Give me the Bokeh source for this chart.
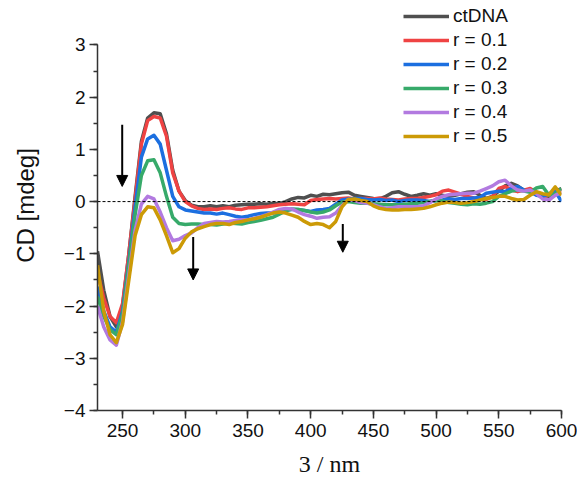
from bokeh.plotting import figure
from bokeh.models import (Range1d, SingleIntervalTicker, Span, Arrow, NormalHead,
                          Legend, LegendItem, ColumnDataSource)
from bokeh.embed import file_html
from bokeh.resources import INLINE

wavelength = [230, 235, 240, 245, 250, 255, 260, 265, 270, 275, 280, 285, 290, 295, 300,
              305, 310, 315, 320, 325, 330, 335, 340, 345, 350, 355, 360, 365, 370, 375,
              380, 385, 390, 395, 400, 405, 410, 415, 420, 425, 430, 435, 440, 445, 450,
              455, 460, 465, 470, 475, 480, 485, 490, 495, 500, 505, 510, 515, 520, 525,
              530, 535, 540, 545, 550, 555, 560, 565, 570, 575, 580, 585, 590, 595, 600]

ctDNA = [-0.95, -1.7, -2.2, -2.4, -2.0, -1.0, 0.1, 1.15, 1.6, 1.7, 1.68, 1.3, 0.6, 0.2, 0.02,
         -0.07, -0.1, -0.1, -0.08, -0.1, -0.08, -0.1, -0.07, -0.06, -0.05, -0.05, -0.04, -0.05, -0.03, -0.04,
         0.0, 0.05, 0.08, 0.07, 0.12, 0.1, 0.14, 0.13, 0.15, 0.17, 0.18, 0.12, 0.1, 0.08, 0.06,
         0.05, 0.1, 0.17, 0.19, 0.14, 0.1, 0.12, 0.15, 0.12, 0.15, 0.12, 0.1, 0.12, 0.15, 0.18,
         0.19, 0.12, 0.06, 0.1, 0.2, 0.3, 0.35, 0.3, 0.22, 0.19, 0.15, 0.12, 0.1, 0.2, 0.25]

r01 = [-1.35, -1.85, -2.2, -2.32, -1.95, -1.0, 0.05, 1.1, 1.55, 1.63, 1.6, 1.25, 0.55, 0.2, 0.0,
       -0.08, -0.13, -0.15, -0.14, -0.15, -0.13, -0.12, -0.14, -0.15, -0.12, -0.12, -0.11, -0.1, -0.08, -0.06,
       -0.05, -0.04, -0.05, -0.06, 0.02, 0.04, 0.05, 0.06, 0.05, 0.06, 0.07, 0.05, 0.06, 0.06, 0.05,
       0.07, 0.05, 0.04, 0.03, 0.05, 0.06, 0.06, 0.08, 0.1, 0.13, 0.2, 0.22, 0.18, 0.14, 0.1,
       0.07, 0.05, 0.04, 0.1, 0.25, 0.29, 0.22, 0.19, 0.22, 0.25, 0.18, 0.1, 0.12, 0.2, 0.22]

r02 = [-1.63, -2.1, -2.4, -2.5, -2.1, -1.15, -0.1, 0.85, 1.2, 1.27, 1.1, 0.6, 0.1, -0.1, -0.16,
       -0.18, -0.2, -0.22, -0.22, -0.24, -0.22, -0.25, -0.28, -0.3, -0.28, -0.25, -0.23, -0.22, -0.22, -0.2,
       -0.16, -0.15, -0.15, -0.17, -0.19, -0.16, -0.15, -0.13, -0.05, 0.03, 0.05, 0.06, 0.06, 0.04, 0.03,
       0.04, 0.02, 0.03, 0.0, 0.02, 0.03, 0.03, 0.02, 0.0, 0.02, 0.03, 0.05, 0.04, 0.06, 0.06,
       0.07, 0.08, 0.16, 0.18, 0.2, 0.19, 0.25, 0.29, 0.22, 0.19, 0.12, 0.1, 0.15, 0.2, 0.0]

r03 = [-1.82, -2.2, -2.45, -2.55, -2.15, -1.2, -0.25, 0.5, 0.78, 0.8, 0.55, 0.1, -0.3, -0.42, -0.44,
       -0.43, -0.43, -0.44, -0.44, -0.45, -0.43, -0.41, -0.42, -0.43, -0.4, -0.38, -0.36, -0.33, -0.3, -0.24,
       -0.18, -0.14, -0.15, -0.17, -0.2, -0.22, -0.2, -0.16, -0.08, -0.01, 0.0, -0.02, -0.03, -0.03, -0.04,
       -0.05, -0.06, -0.06, -0.06, -0.05, -0.04, -0.03, -0.02, 0.0, 0.02, 0.01, -0.02, -0.03, -0.05, -0.06,
       -0.04, -0.05, -0.03, 0.0, 0.1, 0.15, 0.2, 0.22, 0.2, 0.18, 0.26, 0.29, 0.12, 0.15, 0.25]

r04 = [-2.0, -2.4, -2.65, -2.75, -2.3, -1.4, -0.55, -0.05, 0.1, 0.05, -0.2, -0.5, -0.75, -0.72, -0.65,
       -0.6, -0.5, -0.42, -0.4, -0.38, -0.39, -0.38, -0.36, -0.35, -0.35, -0.32, -0.29, -0.25, -0.2, -0.15,
       -0.13, -0.14, -0.2, -0.25, -0.28, -0.32, -0.3, -0.29, -0.22, -0.08, 0.04, 0.02, -0.02, -0.03, -0.06,
       -0.1, -0.13, -0.12, -0.1, -0.1, -0.1, -0.1, -0.08, -0.02, 0.05, 0.1, 0.13, 0.14, 0.15, 0.16,
       0.16, 0.2, 0.25, 0.3, 0.38, 0.41, 0.3, 0.22, 0.2, 0.22, 0.15, 0.05, 0.03, 0.12, 0.18]

r05 = [-1.22, -2.1, -2.55, -2.7, -2.35, -1.5, -0.65, -0.25, -0.1, -0.12, -0.35, -0.65, -0.98, -0.9, -0.7,
       -0.58, -0.52, -0.48, -0.44, -0.42, -0.42, -0.44, -0.4, -0.38, -0.35, -0.33, -0.3, -0.26, -0.22, -0.2,
       -0.22, -0.26, -0.3, -0.38, -0.44, -0.42, -0.44, -0.5, -0.38, -0.1, 0.04, 0.05, 0.02, 0.0, -0.08,
       -0.13, -0.15, -0.16, -0.16, -0.15, -0.15, -0.14, -0.13, -0.1, -0.06, -0.03, -0.01, -0.02, -0.03, -0.02,
       0.0, 0.03, 0.06, 0.08, 0.1, 0.1, 0.06, 0.03, 0.04, 0.12, 0.19, 0.15, 0.13, 0.28, 0.12]

series_labels = ["ctDNA", "r = 0.1", "r = 0.2", "r = 0.3", "r = 0.4", "r = 0.5"]
series_values = [ctDNA, r01, r02, r03, r04, r05]
series_colors = ["#4f4f4f", "#ef4343", "#1c6fe0", "#37aa6a", "#b27ae0", "#cc9a06"]

# arrows (x, y_start, y_end)
arrow_x = [249.7, 306.3, 425.6]
arrow_y0 = [1.47, -0.68, -0.43]
arrow_y1 = [0.29, -1.5, -0.97]

x_ticks_interval = 50
y_ticks_interval = 1

p = figure(width=577, height=479, output_backend="svg", toolbar_location=None,
           x_range=Range1d(230, 600), y_range=Range1d(-4, 3.85),
           min_border_left=97, min_border_right=16, min_border_top=0, min_border_bottom=65)
p.outline_line_color = None
p.xgrid.visible = False
p.ygrid.visible = False
p.background_fill_color = "white"
p.border_fill_color = "white"

p.xaxis.ticker = SingleIntervalTicker(interval=x_ticks_interval, num_minor_ticks=2)
p.yaxis.ticker = SingleIntervalTicker(interval=y_ticks_interval, num_minor_ticks=2)
p.yaxis.bounds = (-4, 3)
p.xaxis.bounds = (230, 600)

for ax in (p.xaxis[0], p.yaxis[0]):
    ax.axis_line_color = "#333333"
    ax.axis_line_width = 1.5
    ax.major_tick_line_color = "#333333"
    ax.minor_tick_line_color = "#333333"
    ax.major_tick_line_width = 1.5
    ax.minor_tick_line_width = 1.5
    ax.major_tick_out = 8
    ax.major_tick_in = 0
    ax.minor_tick_out = 4
    ax.minor_tick_in = 0
    ax.major_label_text_font = "Liberation Sans"
    ax.major_label_text_font_size = "19px"
    ax.major_label_text_color = "#111111"

p.xaxis.axis_label = "3 / nm"
p.xaxis.axis_label_text_font = "Liberation Serif"
p.xaxis.axis_label_text_font_style = "normal"
p.xaxis.axis_label_text_font_size = "24px"
p.xaxis.axis_label_text_color = "#111111"
p.xaxis.axis_label_standoff = 11
p.xaxis.major_label_standoff = 5

p.yaxis.axis_label = "CD [mdeg]"
p.yaxis.axis_label_text_font = "Liberation Sans"
p.yaxis.axis_label_text_font_style = "normal"
p.yaxis.axis_label_text_font_size = "24px"
p.yaxis.axis_label_text_color = "#111111"
p.yaxis.axis_label_standoff = 22
p.yaxis.major_label_standoff = 4

p.add_layout(Span(location=0, dimension="width", line_color="black",
                  line_dash="3 2", line_width=1))

items = []
for lab, vals, col in zip(series_labels, series_values, series_colors):
    src = ColumnDataSource(dict(x=wavelength, y=vals))
    r = p.line("x", "y", source=src, line_color=col, line_width=3.5, line_join="round")
    items.append(LegendItem(label=lab, renderers=[r]))

for ax_, y0, y1 in zip(arrow_x, arrow_y0, arrow_y1):
    p.add_layout(Arrow(x_start=ax_, y_start=y0, x_end=ax_, y_end=y1,
                       line_color="black", line_width=2,
                       end=NormalHead(size=11, fill_color="black", line_color="black")))

legend = Legend(items=items, location=(306, 263), orientation="vertical")
legend.border_line_color = None
legend.background_fill_alpha = 0
legend.glyph_width = 46
legend.glyph_height = 20
legend.label_standoff = 4
legend.spacing = 2
legend.padding = 2
legend.margin = 0
legend.label_text_font = "Liberation Sans"
legend.label_text_font_size = "19px"
legend.label_text_color = "#111111"
p.add_layout(legend)

open("out.html", "w").write(file_html(p, INLINE))
